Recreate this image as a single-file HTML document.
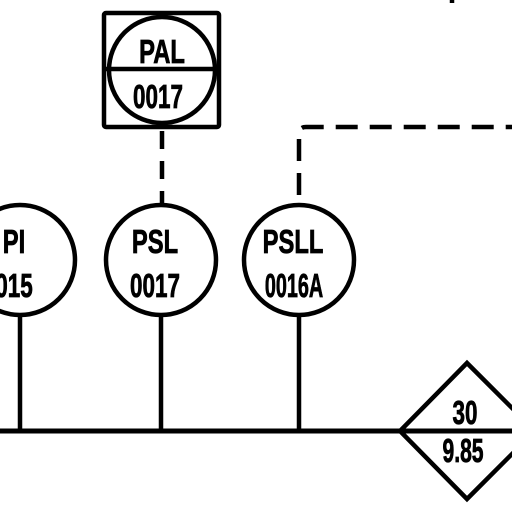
<!DOCTYPE html>
<html><head><meta charset="utf-8"><style>
html,body{margin:0;padding:0;background:#fff;}
svg{display:block}
text{font-family:"Liberation Sans",sans-serif;font-weight:bold;fill:#000;stroke:#000;stroke-width:0.8;}
</style></head><body>
<svg width="512" height="512" viewBox="0 0 512 512" xmlns="http://www.w3.org/2000/svg">
<g stroke="#000" stroke-width="4.5" fill="none">
<rect x="104" y="13" width="115" height="114" rx="2"/>
<circle cx="162" cy="70" r="53"/>
<line x1="106" y1="69" x2="217" y2="69"/>
<line x1="162" y1="129" x2="162" y2="205" stroke-dasharray="18,12" stroke-dashoffset="-2"/>
<circle cx="20" cy="260" r="55"/>
<circle cx="161" cy="260" r="55"/>
<circle cx="299" cy="260" r="55"/>
<line x1="20" y1="315" x2="20" y2="431"/>
<line x1="161" y1="315" x2="161" y2="431"/>
<line x1="299" y1="315" x2="299" y2="431"/>
<path d="M299 205 L299 134 Q299 127 306 127 L512 127" stroke-dasharray="22,12" stroke-dashoffset="-10"/>
<line x1="0" y1="431" x2="512" y2="431" stroke-width="5"/>
<polygon points="467,363 535,431 467,499 400,431" fill="#fff"/>
<line x1="400" y1="431" x2="512" y2="431" stroke-width="5"/>
<line x1="452" y1="0" x2="452" y2="3"/>
</g>
<g font-size="33" text-anchor="middle">
<text transform="translate(162,63) scale(0.72,1)">PAL</text>
<text transform="translate(158,108) scale(0.68,1)">0017</text>
<text transform="translate(14,253) scale(0.72,1)">PI</text>
<text transform="translate(14,297) scale(0.68,1)">015</text>
<text transform="translate(155,253) scale(0.72,1)">PSL</text>
<text transform="translate(155,297) scale(0.68,1)">0017</text>
<text transform="translate(293,253) scale(0.72,1)">PSLL</text>
<text transform="translate(294,297) scale(0.6,1)">0016A</text>
<text transform="translate(465,424) scale(0.68,1)">30</text>
<text transform="translate(463,462) scale(0.64,1)">9.85</text>
</g>
</svg>
</body></html>
